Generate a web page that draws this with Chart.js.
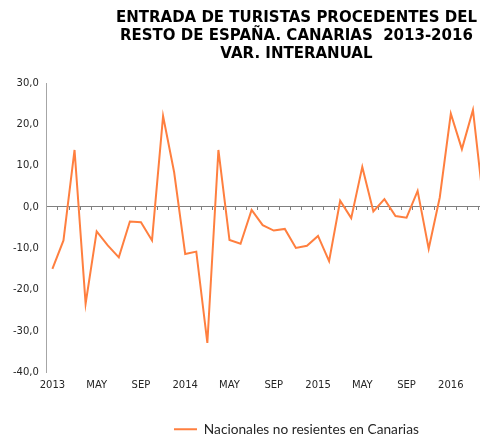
<!DOCTYPE html>
<html><head><meta charset="utf-8">
<script src="https://cdn.jsdelivr.net/npm/chart.js@4"></script>
<style>
html,body{margin:0;padding:0;background:#fff;overflow:hidden}
#wrap{width:480px;height:434px;overflow:hidden;position:relative}
#inner{width:556px;height:434px;position:absolute;left:0;top:0}
</style></head><body>
<div id="wrap"><div id="inner"><canvas id="c" width="556" height="434"></canvas></div></div>
<script>
const titleLines = ['ENTRADA DE TURISTAS PROCEDENTES DEL', 'RESTO DE ESPAÑA. CANARIAS  2013-2016', 'VAR. INTERANUAL'];
const seriesName = 'Nacionales no resientes en Canarias';
const months = ['2013','FEB','MAR','ABR','MAY','JUN','JUL','AGO','SEP','OCT','NOV','DIC',
                '2014','FEB','MAR','ABR','MAY','JUN','JUL','AGO','SEP','OCT','NOV','DIC',
                '2015','FEB','MAR','ABR','MAY','JUN','JUL','AGO','SEP','OCT','NOV','DIC',
                '2016','FEB','MAR','ABR'];
const values = [-15.0,-8.1,13.8,-23.4,-5.9,-9.3,-12.2,-3.5,-3.7,-8.1,22.0,8.4,
                -11.4,-10.8,-32.9,13.8,-8.0,-8.9,-0.7,-4.4,-5.7,-5.3,-9.9,-9.4,
                -7.0,-13.1,1.5,-2.7,9.7,-1.1,1.9,-2.2,-2.6,3.9,-10.1,2.3,
                22.6,14.0,23.5,-0.3];
const labelEvery = 4;
const yTicks = {min: -40, max: 30, step: 10};

const X_MIN = -0.5, X_MAX = 44.6;
const fmt = v => v.toFixed(1).replace('.', ',');

new Chart(document.getElementById('c'), {
  type: 'line',
  data: {
    datasets: [{
      label: seriesName,
      data: values.map((v, i) => ({x: i, y: v})),
      borderColor: '#FF7F3F',
      backgroundColor: '#FF7F3F',
      borderWidth: 2,
      pointRadius: 0,
      pointStyle: 'line',
      tension: 0,
      fill: false
    }]
  },
  options: {
    responsive: false,
    animation: false,
    layout: {padding: {left: 5, right: 10, top: 0, bottom: -12}},
    scales: {
      x: {
        type: 'linear', min: X_MIN, max: X_MAX, position: 'bottom',
        afterBuildTicks: s => { s.ticks = months.map((m, i) => ({value: i})).filter(t => t.value % labelEvery === 0); },
        grid: {display: false, drawTicks: false},
        border: {display: false},
        ticks: {
          autoSkip: false, maxRotation: 0, padding: 7,
          color: '#262626', font: {family: 'DejaVu Sans', size: 10},
          callback: v => months[v] || ''
        }
      },
      x2: {
        type: 'linear', min: X_MIN, max: X_MAX, position: {y: 0},
        afterBuildTicks: s => { s.ticks = months.map((m, i) => ({value: i - 0.5})).concat([{value: months.length - 0.5}]); },
        grid: {drawOnChartArea: false, drawTicks: true, tickLength: 3, color: '#808080'},
        border: {display: false},
        ticks: {display: false}
      },
      y: {
        min: yTicks.min, max: yTicks.max,
        ticks: {stepSize: yTicks.step, padding: 8, color: '#262626', font: {family: 'DejaVu Sans', size: 10}, callback: v => fmt(v)},
        grid: {drawTicks: false, color: c => c.tick && c.tick.value === 0 ? '#808080' : 'rgba(0,0,0,0)'},
        border: {display: true, color: '#A6A6A6'}
      }
    },
    plugins: {
      title: {
        display: true, text: titleLines, fullSize: false,
        color: '#000', font: {family: 'DejaVu Sans', size: 15, weight: 'bold', lineHeight: 1.2},
        padding: {top: 9, bottom: 20}
      },
      legend: {
        position: 'bottom', fullSize: false,
        labels: {usePointStyle: true, pointStyleWidth: 23, color: '#262626', font: {family: 'Lato', size: 13.7}, padding: 24}
      },
      tooltip: {enabled: false}
    }
  }
});
</script>
</body></html>
